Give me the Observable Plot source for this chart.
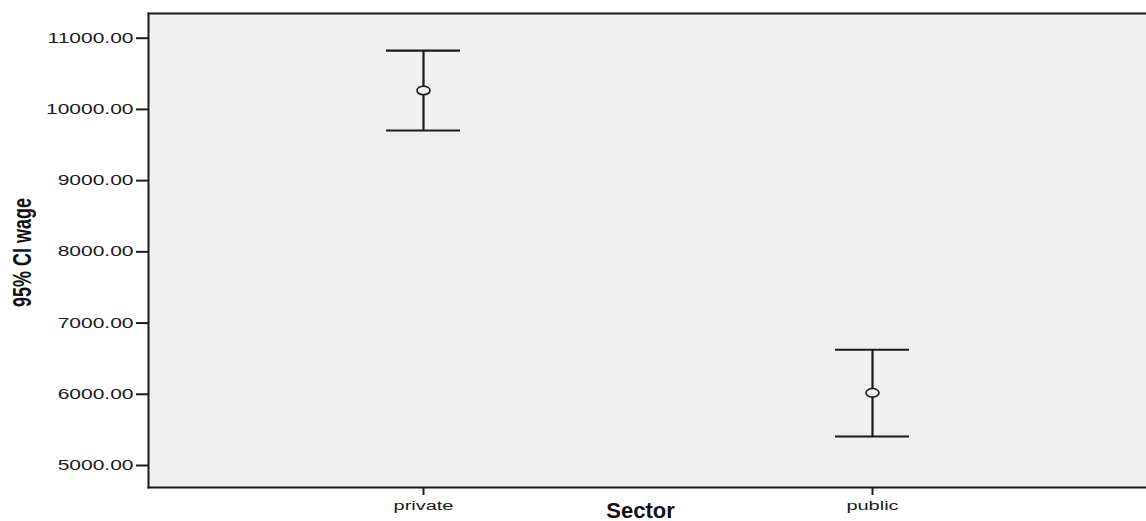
<!DOCTYPE html>
<html>
<head>
<meta charset="utf-8">
<script src="https://cdn.jsdelivr.net/npm/d3@7"></script>
<script src="https://cdn.jsdelivr.net/npm/@observablehq/plot@0.6"></script>
<style>
  html, body { margin: 0; padding: 0; background: #fff; }
  #chart svg { display: block; }
</style>
</head>
<body>
<div id="chart"></div>
<script>
const sectors = ["private", "public"];
const means = [10266, 6020];
const lower = [9704, 5407];
const upper = [10827, 6625];
const yTicks = [5000, 6000, 7000, 8000, 9000, 10000, 11000];

const data = sectors.map((s, i) => ({sector: s, mean: means[i], lo: lower[i], hi: upper[i]}));

const ellipse = {
  draw(ctx) {
    const rx = 6.5, ry = 4.3, k = 0.5523;
    ctx.moveTo(rx, 0);
    ctx.bezierCurveTo(rx, k * ry, k * rx, ry, 0, ry);
    ctx.bezierCurveTo(-k * rx, ry, -rx, k * ry, -rx, 0);
    ctx.bezierCurveTo(-rx, -k * ry, -k * rx, -ry, 0, -ry);
    ctx.bezierCurveTo(k * rx, -ry, rx, -k * ry, rx, 0);
    ctx.closePath();
  }
};

const ink = "#1a1a1a";

const chart = Plot.plot({
  width: 1146,
  height: 521,
  marginTop: 13,
  marginBottom: 34,
  marginLeft: 148,
  marginRight: 0,
  style: {fontFamily: "'Liberation Sans', Arial, sans-serif", background: "#fff"},
  x: {type: "band", domain: sectors, paddingInner: 0.8356, paddingOuter: 0.5267},
  y: {domain: [4691, 11347]},
  marks: [
    Plot.frame({fill: "#f0f0f0", stroke: null}),
    Plot.frame({anchor: "top", stroke: ink, strokeWidth: 2}),
    Plot.frame({anchor: "left", stroke: ink, strokeWidth: 2}),
    Plot.frame({anchor: "bottom", stroke: ink, strokeWidth: 2}),
    Plot.axisY({ticks: yTicks, tickFormat: d3.format(".2f"), tickSize: 12, tickPadding: 3, fontSize: 14, label: null, stroke: ink, strokeWidth: 2, fill: "#1a1a1a"}),
    Plot.axisX({tickSize: 8, tickPadding: 6, fontSize: 12.5, label: null, stroke: ink, strokeWidth: 2, fill: "#1a1a1a"}),
    Plot.ruleX(data, {x: "sector", y1: "lo", y2: "hi", stroke: ink, strokeWidth: 2.2}),
    Plot.tickY(data, {x: "sector", y: "hi", stroke: ink, strokeWidth: 2.2}),
    Plot.tickY(data, {x: "sector", y: "lo", stroke: ink, strokeWidth: 2.2}),
    Plot.dot(data, {x: "sector", y: "mean", symbol: ellipse, fill: "#f0f0f0", stroke: ink, strokeWidth: 1.6}),
    Plot.text(["Sector"], {frameAnchor: "bottom", dx: -7, dy: 30, lineAnchor: "bottom", fontSize: 22, fontWeight: "bold", fill: "#111"}),
    Plot.text(["95% CI wage"], {frameAnchor: "left", textAnchor: "middle", dx: -126, dy: 2, rotate: -90, fontSize: 18, fontWeight: "bold", fill: "#111", fontFamily: "'Liberation Sans Narrow', 'Liberation Sans', Arial, sans-serif"})
  ]
});

// Stretch tick labels horizontally to mimic the reference's aspect
chart.querySelectorAll('g[aria-label="y-axis tick label"] text').forEach(t => {
  const tr = t.getAttribute("transform") || "";
  t.setAttribute("transform", tr + " scale(1.5,1)");
});
chart.querySelectorAll('g[aria-label="x-axis tick label"] text').forEach(t => {
  const tr = t.getAttribute("transform") || "";
  t.setAttribute("transform", tr + " scale(1.6,1)");
});
// Stretch the rotated y label across (glyph height), like the reference
chart.querySelectorAll('g[aria-label="text"] text').forEach(t => {
  if (t.textContent === "95% CI wage") {
    const tr = t.getAttribute("transform") || "";
    t.setAttribute("transform", tr + " scale(1,1.45)");
  }
});

document.getElementById("chart").appendChild(chart);
</script>
</body>
</html>
